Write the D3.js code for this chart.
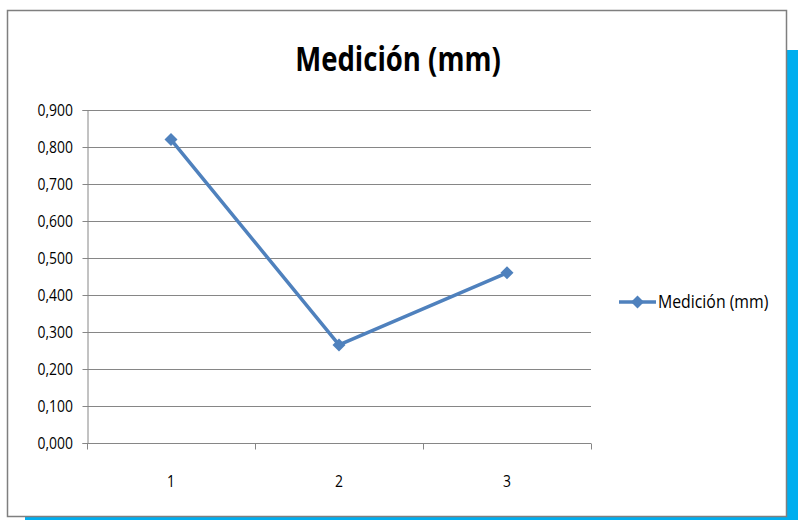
<!DOCTYPE html>
<html>
<head>
<meta charset="utf-8">
<script src="https://cdn.jsdelivr.net/npm/d3@7"></script>
<style>
  html, body { margin: 0; padding: 0; background: #ffffff; }
  svg { display: block; }
  text { font-family: "Open Sans", "DejaVu Sans", sans-serif; fill: #000; }
</style>
</head>
<body>
<svg id="chart" width="798" height="520"></svg>
<script>
// Measurement series
const categories = ["1", "2", "3"];
const seriesName = "Medición (mm)";
const values = [0.820, 0.265, 0.460];
const yTicks = [0, 0.1, 0.2, 0.3, 0.4, 0.5, 0.6, 0.7, 0.8, 0.9];

const svg = d3.select("#chart");
const W = 798, H = 520;

// Place a horizontally condensed label
function label(parent, x, y, txt, size, anchor, weight, squeeze) {
  const g = parent.append("g").attr("transform", `translate(${x},${y}) scale(${squeeze || 0.82},1)`);
  g.append("text").attr("text-anchor", anchor || "start")
    .attr("font-size", size).attr("font-weight", weight || "normal").text(txt);
  return g;
}

// Accent band behind the frame
svg.append("rect").attr("x", 787).attr("y", 50).attr("width", 11).attr("height", H - 50).attr("fill", "#00AEEF");
svg.append("rect").attr("x", 25).attr("y", 516).attr("width", 773).attr("height", 4).attr("fill", "#00AEEF");

// Chart frame
svg.append("rect")
  .attr("x", 7.5).attr("y", 10.5).attr("width", 779).attr("height", 506)
  .attr("fill", "#ffffff").attr("stroke", "#7f7f7f").attr("stroke-width", 1.5);

// Title
label(svg, 398, 71, seriesName, 34, "middle", "bold", 0.81);

const plot = { left: 87, right: 591, top: 110, bottom: 443 };

const x = d3.scaleBand().domain(categories).range([plot.left, plot.right]);
const y = d3.scaleLinear().domain([0, 0.9]).range([plot.bottom, plot.top]);

const fmt = v => d3.format(".3f")(v).replace(".", ",");

// Horizontal gridlines
svg.append("g").selectAll("line").data(yTicks.filter(d => d > 0)).join("line")
  .attr("x1", plot.left).attr("x2", plot.right)
  .attr("y1", d => Math.round(y(d)) + 0.5).attr("y2", d => Math.round(y(d)) + 0.5)
  .attr("stroke", "#868686").attr("stroke-width", 1);

// Y axis
const yAxis = svg.append("g")
  .attr("transform", `translate(${plot.left + 0.5},0)`)
  .call(d3.axisLeft(y).tickValues(yTicks).tickFormat(() => "").tickSize(5));
yAxis.select(".domain").attr("stroke", "#868686");
yAxis.selectAll(".tick line").attr("stroke", "#868686");
yTicks.forEach(t => label(svg, 73, y(t) + 6, fmt(t), 17, "end"));

// X axis with tick marks at category boundaries
const xAxisG = svg.append("g").attr("transform", `translate(0,${plot.bottom + 0.5})`);
xAxisG.append("line").attr("x1", plot.left).attr("x2", plot.right).attr("stroke", "#868686");
const bounds = categories.map(c => x(c)).concat([plot.right]);
xAxisG.selectAll("line.tk").data(bounds).join("line").attr("class", "tk")
  .attr("x1", d => Math.round(d) + 0.5).attr("x2", d => Math.round(d) + 0.5)
  .attr("y1", 0).attr("y2", 6).attr("stroke", "#868686");
categories.forEach(c => label(svg, x(c) + x.bandwidth() / 2, plot.bottom + 44, c, 17, "middle"));

// Series line
const line = d3.line()
  .x((d, i) => x(categories[i]) + x.bandwidth() / 2)
  .y(d => y(d));
svg.append("path").datum(values)
  .attr("d", line).attr("fill", "none")
  .attr("stroke", "#4F81BD").attr("stroke-width", 3.5).attr("stroke-linejoin", "round");

// Diamond markers (rotated squares)
const marker = d3.symbol().type(d3.symbolSquare).size(85);
svg.append("g").selectAll("path").data(values).join("path")
  .attr("transform", (d, i) => `translate(${x(categories[i]) + x.bandwidth() / 2},${y(d)}) rotate(45)`)
  .attr("d", marker).attr("fill", "#4F81BD");

// Legend
const lg = svg.append("g").attr("transform", "translate(619,302)");
lg.append("line").attr("x1", 0).attr("x2", 37).attr("y1", 0).attr("y2", 0)
  .attr("stroke", "#4F81BD").attr("stroke-width", 3.5);
lg.append("path").attr("transform", "translate(18.5,0) rotate(45)").attr("d", marker).attr("fill", "#4F81BD");
label(lg, 39, 6, seriesName, 18, "start", "normal", 0.88);
</script>
</body>
</html>
